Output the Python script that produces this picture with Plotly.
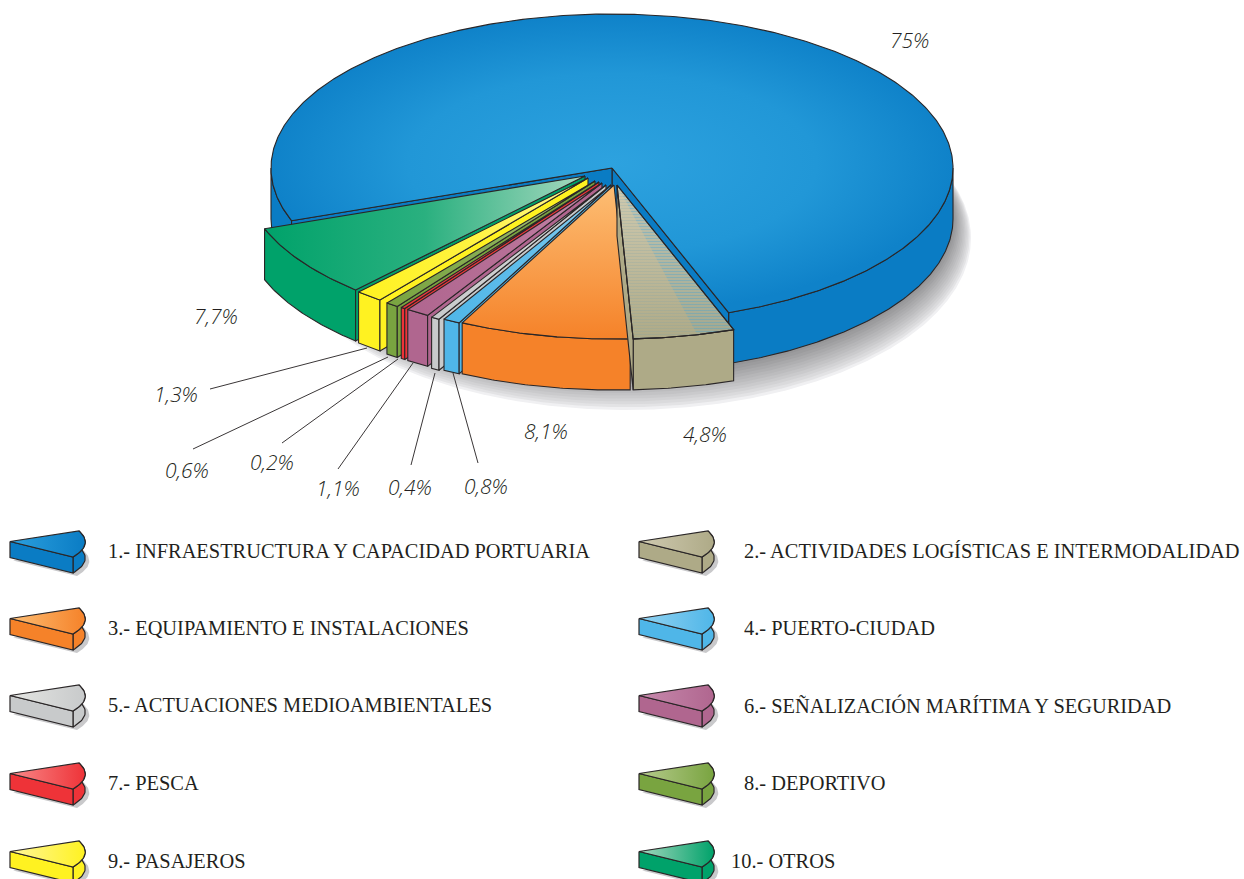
"""Exploded 3D pie of port investment shares, drawn as filled scatter polygons."""

from __future__ import annotations

import numpy as np
import plotly.graph_objects as go

# Data
NAMES = [
    "1.- INFRAESTRUCTURA Y CAPACIDAD PORTUARIA",
    "2.- ACTIVIDADES LOGÍSTICAS E INTERMODALIDAD",
    "3.- EQUIPAMIENTO E INSTALACIONES",
    "4.- PUERTO-CIUDAD",
    "5.- ACTUACIONES MEDIOAMBIENTALES",
    "6.- SEÑALIZACIÓN MARÍTIMA Y SEGURIDAD",
    "7.- PESCA",
    "8.- DEPORTIVO",
    "9.- PASAJEROS",
    "10.- OTROS",
]
SHARES = [75, 4.8, 8.1, 0.8, 0.4, 1.1, 0.2, 0.6, 1.3, 7.7]

# Colours per slice
BASE = ["#0a7cc4", "#aeaa87", "#f58229", "#4fb6e8", "#c8cacb",
        "#b0668f", "#ee3338", "#79a440", "#fff221", "#00a26a"]
LIGHT = ["#2ca0de", "#cfcab0", "#fdbe74", "#93d3f2", "#e4e5e2",
         "#c78aad", "#f98a8a", "#b7cb8e", "#fff79c", "#a6d8bf"]
INK = "#231f20"

# Pie geometry, in page pixels
CX, CY, RX, RY, DEPTH = 612, 168, 341, 154, 51
START_DEG = 70  # where slice 2 starts, measured from 3 o'clock
SHIFT_X = [0, 5, 2, -1, -6, -10, -13, -17, -24, -27]
SHIFT_Y = [0, 17, 17, 17, 17, 15, 14, 13, 10, 8]

# Percent labels and their leader lines
LABEL_X = [909, 705, 546, 486, 410, 338, 272, 187, 176, 216]
LABEL_Y = [40, 434, 431, 486, 487, 488, 462, 470, 394, 316]
LEADERS = {
    8: ((210, 389), (367, 348)),
    7: ((193, 449), (388, 357)),
    6: ((282, 443), (398, 359)),
    5: ((338, 469), (413, 363)),
    4: ((411, 465), (435, 373)),
    3: ((478, 463), (453, 373)),
}

# Legend layout
LEGEND_ROWS = [551, 628, 705, 783, 861]
LEGEND_TIP_X = [10, 639]
LEGEND_TEXT_X = [106, 742]
LEGEND_TEXT_X_LAST = 729

fig = go.Figure()


def mix(c0, c1, f):
    """Blend two hex colours."""
    a = [int(c0[j : j + 2], 16) for j in (1, 3, 5)]
    b = [int(c1[j : j + 2], 16) for j in (1, 3, 5)]
    return "rgb({},{},{})".format(*[round(p + (q - p) * f) for p, q in zip(a, b, strict=True)])


def poly(x, y, color=None, gradient=None, pattern=None, line="#2a2627", width=1.1):
    """Add one closed polygon as a filled scatter trace."""
    x, y = list(x), list(y)
    kw = {}
    if gradient is not None:
        kw["fillgradient"] = gradient
    elif pattern is not None:
        kw["fillpattern"] = pattern
    else:
        kw["fillcolor"] = color
    fig.add_scatter(
        x=x + x[:1],
        y=y + y[:1],
        mode="lines",
        fill="toself",
        line={"color": line or "rgba(0,0,0,0)", "width": width if line else 0},
        hoverinfo="skip",
        showlegend=False,
        **kw,
    )


def arc(t0, t1, dx=0.0, dy=0.0, rx=RX, ry=RY, cx=CX, cy=CY):
    """Points along the pie ellipse between two angles in degrees."""
    t = np.radians(np.linspace(t0, t1, max(2, int(abs(t1 - t0) * 2) + 2)))
    return cx + dx + rx * np.cos(t), cy + dy + ry * np.sin(t)


def wall(t0, t1, color, dx=0.0, dy=0.0):
    """Outer curved side between two angles."""
    x, y = arc(t0, t1, dx, dy)
    poly(np.r_[x, x[::-1]], np.r_[y, y[::-1] + DEPTH], color)


def radial_face(t, color, dx=0.0, dy=0.0):
    """Flat cut face running from the centre out to the rim at angle t."""
    x, y = arc(t, t, dx, dy)
    ax, ay = CX + dx, CY + dy
    poly([ax, x[0], x[0], ax], [ay, y[0], y[0] + DEPTH, ay + DEPTH], color)


def top_face(t0, t1, dx=0.0, dy=0.0, **style):
    x, y = arc(t0, t1, dx, dy)
    poly(np.r_[CX + dx, x], np.r_[CY + dy, y], **style)


# Soft drop shadow, stacked from the outer pale ring to the dark inner one
SHADOW_STEPS = 14
for k in range(SHADOW_STEPS):
    f = k / (SHADOW_STEPS - 1)
    grey = int(240 - 95 * f**0.8)
    sx, sy = arc(0, 360, rx=345 - 4 * f, ry=172 - 18 * f, cx=626 - 14 * f, cy=238 - 19 * f)
    poly(sx, sy, f"rgb({grey},{grey},{grey + 2})", line=None)

# Slice angles from the shares
sweep = [s * 3.6 for s in SHARES]
edges = [START_DEG]
for s in sweep[1:]:
    edges.append(edges[-1] + s)
blue_start = edges[-1]

# Main blue slice
wall(blue_start, 180, BASE[0])
wall(0, START_DEG, BASE[0])
radial_face(START_DEG, BASE[0])
radial_face(blue_start, BASE[0])
top_face(
    blue_start,
    360 + START_DEG,
    gradient={
        "type": "radial",
        "colorscale": [[0, "#2da2df"], [0.6, "#2197d7"], [1, "#0f82c9"]],
    },
)

# Exploded slices, painted from the back-left round to the front-right
for i in range(9, 0, -1):
    t0, t1 = edges[i - 1], edges[i]
    dx, dy = SHIFT_X[i], SHIFT_Y[i]
    wall(t0, t1, BASE[i], dx, dy)
    if t0 > 90:
        radial_face(t0, BASE[i], dx, dy)
    if t1 < 90:
        radial_face(t1, BASE[i], dx, dy)
    if i <= 2:
        # y runs downwards here, so the tip end of the scale comes last
        grad = {"type": "vertical", "colorscale": [[0, BASE[i]], [1, LIGHT[i]]]}
    else:
        soft = mix(BASE[i], LIGHT[i], 0.25)
        grad = {"type": "horizontal", "colorscale": [[0, BASE[i]], [0.5, soft], [1, LIGHT[i]]]}
    top_face(t0, t1, dx, dy, gradient=grad)
    if i == 1:
        # Hatching on the logistics slice, stronger beside the blue wall
        split = START_DEG + 6.4
        hatch = {"shape": "-", "size": 3, "bgcolor": "rgba(0,0,0,0)"}
        top_face(split, t1, dx, dy, line=None,
                 pattern={**hatch, "solidity": 0.35, "fgcolor": "rgba(120,160,170,0.4)"})
        top_face(t0, split, dx, dy, line=None,
                 pattern={**hatch, "solidity": 0.5, "fgcolor": "rgba(60,160,215,0.8)"})
        top_face(t0, t1, dx, dy, color="rgba(0,0,0,0)")

# Leader lines
for start, end in LEADERS.values():
    fig.add_scatter(
        x=[start[0], end[0]],
        y=[start[1], end[1]],
        mode="lines",
        line={"color": "#3a3637", "width": 1},
        hoverinfo="skip",
        showlegend=False,
    )

# Percent labels
for share, lx, ly in zip(SHARES, LABEL_X, LABEL_Y, strict=True):
    fig.add_annotation(
        x=lx,
        y=ly,
        text=f"{share:g}%".replace(".", ","),
        showarrow=False,
        font={"family": "Open Sans", "size": 21, "color": INK, "style": "italic", "weight": 300},
    )

# Legend icons and names
t = np.linspace(0, 1, 25)
for i, name in enumerate(NAMES):
    row, col = divmod(i, 2)
    tip_x, tip_y = LEGEND_TIP_X[col], LEGEND_ROWS[row] - 9.5
    # Arc of the icon as a quadratic curve between its two top corners
    ax = tip_x + (1 - t) ** 2 * 69 + 2 * t * (1 - t) * 84 + t**2 * 63
    ay = tip_y + (1 - t) ** 2 * -10.5 + 2 * t * (1 - t) * 3 + t**2 * 15.5
    d = 16
    poly(np.r_[tip_x + 3, ax + 4, tip_x + 3], np.r_[tip_y + d + 3, ay + d + 3, tip_y + d + 3],
         "#c9c9cb", line=None)
    poly(np.r_[ax, ax[::-1]], np.r_[ay, ay[::-1] + d], BASE[i], width=1.2)
    poly([tip_x, ax[-1], ax[-1], tip_x], [tip_y, ay[-1], ay[-1] + d, tip_y + d], BASE[i], width=1.2)
    poly(
        np.r_[tip_x, ax],
        np.r_[tip_y, ay],
        gradient={"type": "horizontal", "colorscale": [[0, LIGHT[i]], [1, BASE[i]]]},
        width=1.2,
    )
    text_x = LEGEND_TEXT_X_LAST if i == 9 else LEGEND_TEXT_X[col]
    fig.add_annotation(
        x=text_x,
        y=LEGEND_ROWS[row],
        text=name,
        xanchor="left",
        showarrow=False,
        font={"family": "Liberation Serif", "size": 20.4, "color": INK},
    )

fig.update_layout(
    width=1244,
    height=879,
    margin={"l": 0, "r": 0, "t": 0, "b": 0},
    paper_bgcolor="white",
    plot_bgcolor="white",
    showlegend=False,
    xaxis={"range": [0, 1244], "visible": False, "fixedrange": True},
    yaxis={"range": [879, 0], "visible": False, "fixedrange": True},
)

fig.write_html(
    "out.html",
    config={"displayModeBar": False},
    post_script="document.body.style.margin='0';document.body.style.overflow='hidden';",
)
